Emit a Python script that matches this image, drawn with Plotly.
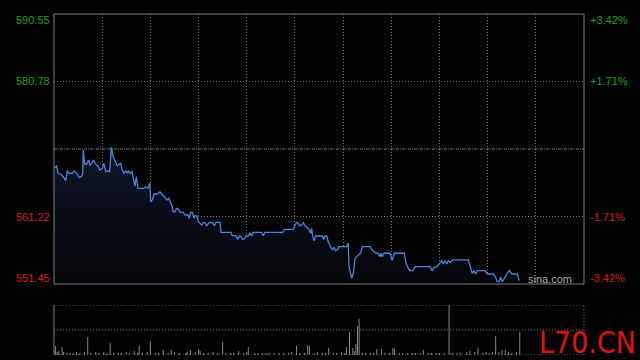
import plotly.graph_objects as go

# ---- data (minutes since open, lunch break removed; HK session = 330 min) ----
minutes = [0.0, 1.7, 2.5, 4.2, 5.8, 7.3, 8.3, 9.3, 11.4, 12.5, 14.1, 15.6, 17.0, 17.9, 18.2, 19.1,
           20.4, 21.6, 22.4, 23.2, 24.5, 26.0, 27.6, 28.6, 30.1, 31.1, 32.2, 33.6, 34.7, 35.7, 36.9,
           38.4, 39.4, 40.7, 41.5, 42.5, 43.6, 44.8, 45.6, 46.5, 47.3, 48.6, 49.4, 50.4, 51.2, 52.3,
           56.0, 57.1, 58.5, 59.6, 60.2, 61.2, 62.3, 64.3, 66.0, 67.4, 68.9, 70.2, 71.4, 72.2, 72.7,
           73.3, 74.3, 75.3, 76.4, 77.4, 78.5, 80.5, 81.6, 83.6, 84.2, 85.1, 86.1, 87.2, 87.8, 88.8,
           89.8, 90.9, 92.0, 93.0, 94.0, 95.1, 96.7, 98.8, 99.8, 100.9, 103.4, 104.0, 110.2, 111.0,
           113.1, 114.4, 115.4, 116.4, 117.5, 118.5, 119.5, 121.2, 122.0, 123.1, 124.1, 129.3, 130.3,
           131.4, 142.4, 143.4, 146.9, 149.0, 150.1, 151.1, 152.1, 153.2, 154.2, 155.2, 156.3, 157.3,
           158.8, 159.8, 160.4, 161.1, 162.1, 162.9, 167.0, 168.1, 168.7, 169.8, 170.8, 172.3, 173.3,
           174.3, 175.4, 176.6, 177.4, 182.2, 183.2, 183.7, 184.7, 185.4, 186.4, 187.4, 188.5, 189.9,
           191.1, 192.0, 196.7, 198.2, 199.4, 200.3, 201.9, 203.0, 203.6, 204.4, 205.5, 209.2, 210.6,
           211.9, 218.1, 219.2, 220.6, 221.7, 223.3, 224.8, 234.1, 235.5, 236.6, 237.8, 239.3, 240.3,
           241.4, 242.4, 243.4, 244.5, 245.5, 246.6, 248.0, 258.0, 259.4, 260.4, 261.5, 262.6, 263.6,
           268.4, 269.8, 273.6, 275.0, 276.0, 277.1, 278.1, 279.1, 280.8, 282.2, 283.5, 285.0, 288.5,
           289.7]
prices = [568.21, 568.54, 567.48, 567.34, 566.99, 566.41, 567.86, 567.48, 567.48, 567.86, 567.48,
          566.90, 566.99, 567.48, 570.86, 568.83, 568.83, 569.41, 568.68, 568.83, 569.41, 568.83,
          568.44, 567.96, 568.21, 568.93, 567.71, 567.86, 567.71, 571.25, 569.88, 568.93, 568.54,
          568.83, 568.93, 567.96, 567.48, 567.86, 567.48, 567.86, 567.48, 567.71, 566.76, 565.64,
          566.99, 565.31, 565.31, 565.54, 565.31, 566.03, 563.37, 563.61, 564.48, 564.48, 564.82,
          564.34, 564.09, 563.61, 563.86, 563.51, 563.14, 562.89, 561.88, 561.92, 562.41, 562.27,
          561.83, 561.83, 561.44, 561.44, 560.96, 561.83, 561.83, 560.96, 561.34, 561.30, 560.47,
          560.24, 559.99, 560.33, 560.33, 559.89, 560.33, 560.33, 559.89, 560.38, 560.38, 558.94,
          558.94, 558.45, 558.45, 557.92, 558.40, 558.31, 557.92, 557.97, 558.40, 558.40, 558.88,
          558.40, 558.94, 558.94, 558.45, 558.94, 558.94, 559.37, 559.37, 559.37, 559.99, 560.39,
          560.24, 559.89, 559.99, 560.33, 559.89, 559.75, 559.37, 558.79, 559.52, 558.30, 557.72,
          558.40, 558.40, 557.92, 558.40, 558.40, 557.58, 556.77, 556.37, 556.77, 556.27, 556.48,
          556.85, 556.85, 557.34, 553.96, 552.75, 552.28, 553.00, 555.17, 555.41, 555.80, 555.98,
          556.85, 556.85, 556.37, 556.13, 555.90, 555.90, 555.41, 555.90, 555.41, 555.90, 555.90,
          554.83, 555.90, 555.90, 554.45, 553.72, 553.38, 553.38, 553.96, 553.96, 553.38, 553.87,
          553.87, 554.20, 554.45, 554.83, 554.35, 554.83, 554.35, 554.83, 554.54, 554.93, 554.93,
          553.96, 553.00, 553.38, 552.90, 553.38, 553.38, 552.90, 552.90, 552.42, 551.78, 551.78,
          552.42, 551.78, 552.51, 553.00, 553.38, 552.90, 552.90, 551.93]

vol_minutes = [1, 2, 3, 5, 6, 8, 10, 12, 14, 16, 19, 21, 23, 26, 28, 31, 33, 35, 37, 40, 42, 45, 47,
               50, 52, 53, 55, 58, 60, 63, 65, 68, 71, 73, 75, 78, 82, 83, 85, 88, 90, 91, 93, 96,
               99, 102, 105, 107, 110, 112, 115, 118, 120, 121, 125, 127, 130, 132, 134, 137, 140,
               143, 146, 148, 151, 153, 156, 158, 159, 162, 164, 167, 169, 171, 174, 176, 179, 181,
               182, 184, 186, 187, 188, 189, 190, 192, 194, 197, 199, 201, 204, 206, 209, 211, 212,
               215, 217, 220, 223, 225, 228, 230, 233, 235, 238, 240, 243, 246, 248, 251, 253, 257,
               259, 262, 264, 267, 269, 271, 273, 275, 277, 279, 281, 283, 285, 288, 290]
vol_10k = [9, 3, 4, 8, 3, 2, 2, 2, 3, 2, 3, 18, 2, 3, 2, 3, 2, 12, 2, 2, 2, 3, 2,
           4, 2, 9, 2, 3, 14, 2, 2, 5, 2, 5, 3, 2, 2, 3, 5, 3, 6, 4, 2, 2,
           3, 2, 13, 2, 2, 2, 4, 2, 3, 8, 2, 2, 2, 2, 2, 2, 2,
           2, 2, 3, 9, 2, 2, 10, 9, 2, 3, 2, 2, 7, 2, 2, 3, 2,
           8, 23, 7, 4, 11, 29, 36, 2, 2, 2, 2, 6, 6, 2, 2, 7, 6,
           2, 2, 2, 2, 2, 2, 5, 2, 2, 2, 2, 2, 50, 2, 2, 2, 3,
           4, 3, 7, 2, 3, 2, 3, 19, 3, 5, 5, 3, 2, 3, 23]

session_minutes = 330
grid_minutes = [30, 60, 90, 120, 150, 180, 210, 240, 270, 300]
price_top, price_bottom = 590.55, 551.45
prev_close = 571.00
grid_prices = [580.78, 561.22]
left_labels = ["590.55", "580.78", "561.22", "551.45"]
label_prices = [590.55, 580.78, 561.22, 551.45]
right_labels = ["+3.42%", "+1.71%", "-1.71%", "-3.42%"]
vol_max = 50

# ---- layout geometry ----
W, H = 640, 360
main_x = [54 / W, 584 / W]
main_y = [(H - 284) / H, (H - 14) / H]
vol_y = [(H - 355) / H, (H - 305) / H]

GREEN = "#1fa01f"
RED = "#dd1a1a"
GRID = "#7a7a7a"
FONT = "Liberation Sans, Arial, sans-serif"

fig = go.Figure()
fig.add_trace(go.Scatter(
    x=minutes, y=prices, mode="lines",
    line=dict(color="#4a86dc", width=1.3),
    fill="tozeroy",
    fillgradient=dict(type="vertical",
                      colorscale=[[0, "#040507"], [1, "#0e1628"]],
                      start=price_bottom, stop=prev_close),
    xaxis="x", yaxis="y", hoverinfo="skip", showlegend=False))

fig.add_trace(go.Bar(
    x=vol_minutes, y=vol_10k, width=0.6,
    marker=dict(color="#8c8c8c", line=dict(width=0)),
    xaxis="x2", yaxis="y2", hoverinfo="skip", showlegend=False))

fig.update_layout(
    width=W, height=H, margin=dict(l=0, r=0, t=0, b=0),
    paper_bgcolor="black", plot_bgcolor="black",
    showlegend=False,
    xaxis=dict(domain=main_x, range=[0, session_minutes], tickvals=grid_minutes,
               showticklabels=False, showgrid=True, gridcolor=GRID, griddash="1px,2px",
               gridwidth=1, zeroline=False, showline=False, ticks=""),
    yaxis=dict(domain=main_y, range=[price_bottom, price_top], tickvals=grid_prices,
               showticklabels=False, showgrid=True, gridcolor=GRID, griddash="1px,2px",
               gridwidth=1, zeroline=False, showline=False, ticks=""),
    xaxis2=dict(domain=main_x, range=[0, session_minutes], anchor="y2",
                showticklabels=False, showgrid=False, zeroline=False, showline=False, ticks=""),
    yaxis2=dict(domain=vol_y, range=[0, vol_max], anchor="x2",
                showticklabels=False, showgrid=False, zeroline=False, showline=False, ticks=""),
)

shapes = []
# previous close line
shapes.append(dict(type="line", xref="x", yref="y", x0=0, x1=session_minutes,
                   y0=prev_close, y1=prev_close,
                   line=dict(color=GRID, width=1, dash="3px,1px,1px,1px")))
# main frame
shapes.append(dict(type="rect", xref="paper", yref="paper",
                   x0=main_x[0], x1=main_x[1], y0=main_y[0], y1=main_y[1],
                   line=dict(color="#808080", width=1)))
# volume panel frame
for yv in [0, vol_max / 2, vol_max]:
    shapes.append(dict(type="line", xref="paper", yref="y2", x0=main_x[0], x1=main_x[1],
                       y0=yv, y1=yv, line=dict(color=GRID, width=1, dash="1px,2px")))
shapes.append(dict(type="line", xref="paper", yref="paper", x0=main_x[1], x1=main_x[1],
                   y0=vol_y[0], y1=vol_y[1], line=dict(color=GRID, width=1, dash="1px,2px")))
shapes.append(dict(type="line", xref="paper", yref="paper", x0=main_x[0], x1=main_x[0],
                   y0=vol_y[0], y1=vol_y[1], line=dict(color="#808080", width=1)))
fig.update_layout(shapes=shapes)

annotations = []
shifts = [-6, 0, 0, 6]
for txt, rtxt, p, s in zip(left_labels, right_labels, label_prices, shifts):
    col = GREEN if p > prev_close else RED
    annotations.append(dict(text=txt, xref="paper", yref="y", x=main_x[0], y=p, yshift=s,
                            xanchor="right", yanchor="middle", xshift=-2, showarrow=False,
                            font=dict(family=FONT, size=11, color=col)))
    annotations.append(dict(text=rtxt, xref="paper", yref="y", x=main_x[1], y=p, yshift=s,
                            xanchor="left", yanchor="middle", xshift=4, showarrow=False,
                            font=dict(family=FONT, size=11, color=col)))
annotations.append(dict(text="sina.com", xref="paper", yref="paper", x=574 / W, y=(H - 279) / H,
                        xanchor="right", yanchor="middle", showarrow=False,
                        font=dict(family=FONT, size=11, color="#a8a8a8")))
annotations.append(dict(text="L70.CN", xref="paper", yref="paper", x=638 / W, y=(H - 342) / H,
                        xanchor="right", yanchor="middle", showarrow=False,
                        font=dict(family="Liberation Sans Narrow, DejaVu Sans Condensed, Liberation Sans",
                                  size=30, color="#e01010")))
fig.update_layout(annotations=annotations)

fig.write_html("out.html", config={"displayModeBar": False, "staticPlot": True},
               post_script="document.body.style.margin='0';document.body.style.overflow='hidden';")
